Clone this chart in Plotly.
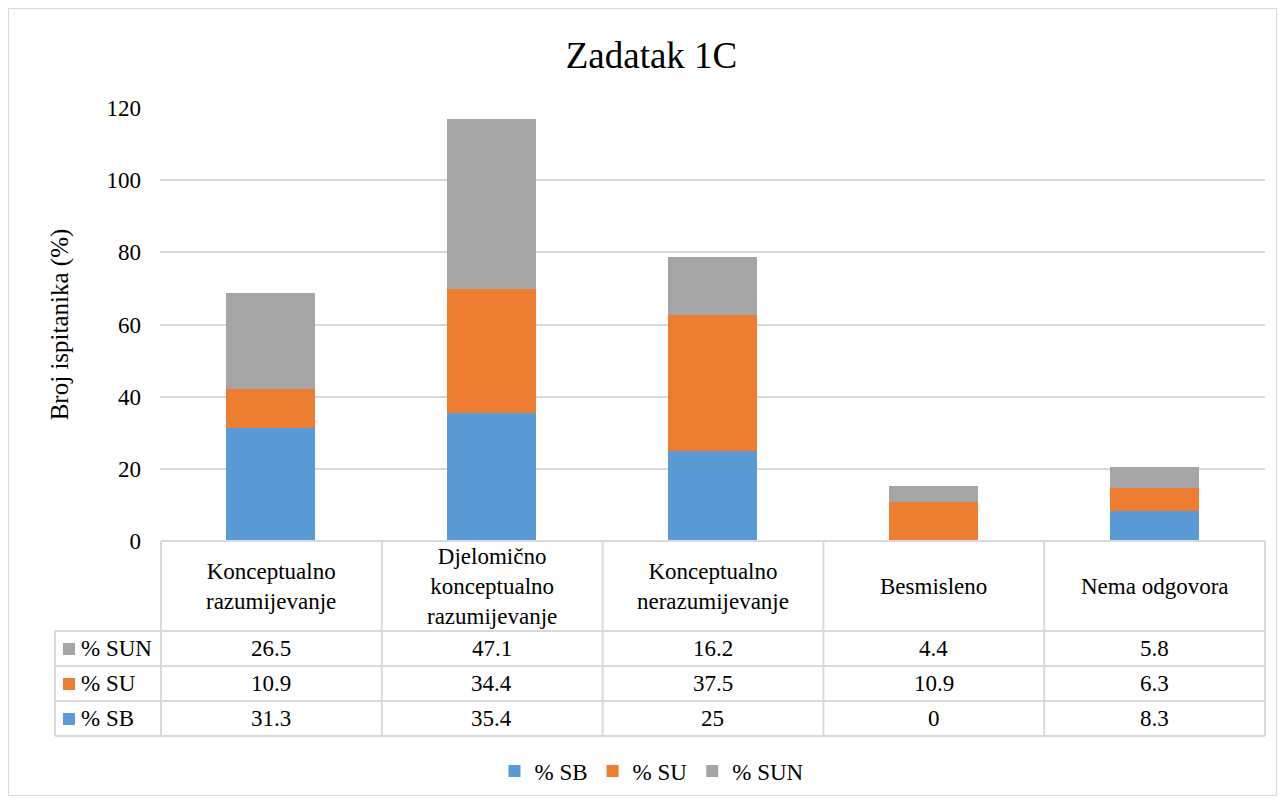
import plotly.graph_objects as go

categories = ["Konceptualno<br>razumijevanje", "Djelomično<br>konceptualno<br>razumijevanje",
              "Konceptualno<br>nerazumijevanje", "Besmisleno", "Nema odgovora"]
sb = [31.3, 35.4, 25, 0, 8.3]
su = [10.9, 34.4, 37.5, 10.9, 6.3]
sun = [26.5, 47.1, 16.2, 4.4, 5.8]
series_names = ["% SB", "% SU", "% SUN"]
colors = ["#5B9BD5", "#ED7D31", "#A5A5A5"]
y_ticks = [0, 20, 40, 60, 80, 100, 120]

W, H = 1285, 804
L, R, T, B = 160, 20, 108, 804 - 541
PW, PH = W - L - R, H - T - B

def px_x(p):
    return (p - L) / PW

def px_y(p):
    return (H - B - p) / PH

FONT = "Liberation Serif"
FS = 23
fig = go.Figure()
for name, vals, c in zip(series_names, [sb, su, sun], colors):
    fig.add_trace(go.Bar(x=list(range(len(categories))), y=vals, name=name, marker_color=c,
                         marker_line_width=0))

shapes = []
grid = "#D9D9D9"
row_y = [541, 631, 666, 701, 736]
col_x = [161 + i * 220.8 for i in range(6)]
shapes.append(dict(type="line", xref="paper", yref="paper", x0=px_x(161), x1=px_x(1265),
                   y0=px_y(541), y1=px_y(541), line=dict(color=grid, width=2)))
for ry in row_y[1:]:
    shapes.append(dict(type="line", xref="paper", yref="paper", x0=px_x(55), x1=px_x(1265),
                       y0=px_y(ry), y1=px_y(ry), line=dict(color=grid, width=2)))
for cx in col_x:
    shapes.append(dict(type="line", xref="paper", yref="paper", x0=px_x(cx), x1=px_x(cx),
                       y0=px_y(541), y1=px_y(736), line=dict(color=grid, width=2)))
shapes.append(dict(type="line", xref="paper", yref="paper", x0=px_x(55), x1=px_x(55),
                   y0=px_y(631), y1=px_y(736), line=dict(color=grid, width=2)))
shapes.append(dict(type="rect", xref="paper", yref="paper", x0=px_x(8.5), x1=px_x(1276.5),
                   y0=px_y(8.5), y1=px_y(795.5), line=dict(color="#D9D9D9", width=1)))

annotations = []
for i, cat in enumerate(categories):
    annotations.append(dict(x=i, y=px_y(586), xref="x", yref="paper", text=cat, showarrow=False,
                            yanchor="middle", xanchor="center",
                            font=dict(family=FONT, size=FS, color="#000"), align="center"))
rows = [("% SUN", sun, colors[2]), ("% SU", su, colors[1]), ("% SB", sb, colors[0])]
for r, (name, vals, c) in enumerate(rows):
    cy = (row_y[r + 1] + row_y[r + 2]) / 2
    annotations.append(dict(x=px_x(69), y=px_y(cy + 0.5), xref="paper", yref="paper", text=" ",
                            showarrow=False, xanchor="center", yanchor="middle",
                            width=12, height=12, bgcolor=c, borderpad=0, borderwidth=0,
                            font=dict(size=4)))
    annotations.append(dict(x=px_x(79), y=px_y(cy), xref="paper", yref="paper",
                            text=name, showarrow=False, xanchor="left", yanchor="middle",
                            font=dict(family=FONT, size=FS, color="#000")))
    for i, v in enumerate(vals):
        annotations.append(dict(x=i, y=px_y(cy), xref="x", yref="paper", text=f"{v:g}",
                                showarrow=False, yanchor="middle",
                                font=dict(family=FONT, size=FS, color="#000")))

fig.update_layout(
    width=W, height=H, barmode="stack", bargap=0.6,
    margin=dict(l=L, r=R, t=T, b=B),
    paper_bgcolor="white", plot_bgcolor="white",
    title=dict(text="Zadatak 1C", x=651.5 / W, xanchor="center", y=1 - 55 / H,
               yanchor="middle", font=dict(family=FONT, size=37, color="#000")),
    xaxis=dict(range=[-0.5, 4.5], showticklabels=False, showgrid=False, zeroline=False,
               showline=False, ticks=""),
    yaxis=dict(range=[0, 120], tickvals=y_ticks, showgrid=True, gridcolor=grid, gridwidth=2,
               zeroline=False, showline=False, ticks="", ticklabelstandoff=18,
               tickfont=dict(family=FONT, size=FS, color="#000"),
               title=dict(text="Broj ispitanika (%)", font=dict(family=FONT, size=25, color="#000"),
                          standoff=30)),
    legend=dict(orientation="h", x=px_x(652), xanchor="center", y=px_y(771), yanchor="middle",
                font=dict(family=FONT, size=FS, color="#000"), itemwidth=30, traceorder="normal",
                tracegroupgap=0),
    shapes=shapes, annotations=annotations,
)
fig.write_html("out.html", config={"displayModeBar": False},
               post_script="document.body.style.margin='0';document.body.style.overflow='hidden';"
                           "document.documentElement.style.overflow='hidden';")
